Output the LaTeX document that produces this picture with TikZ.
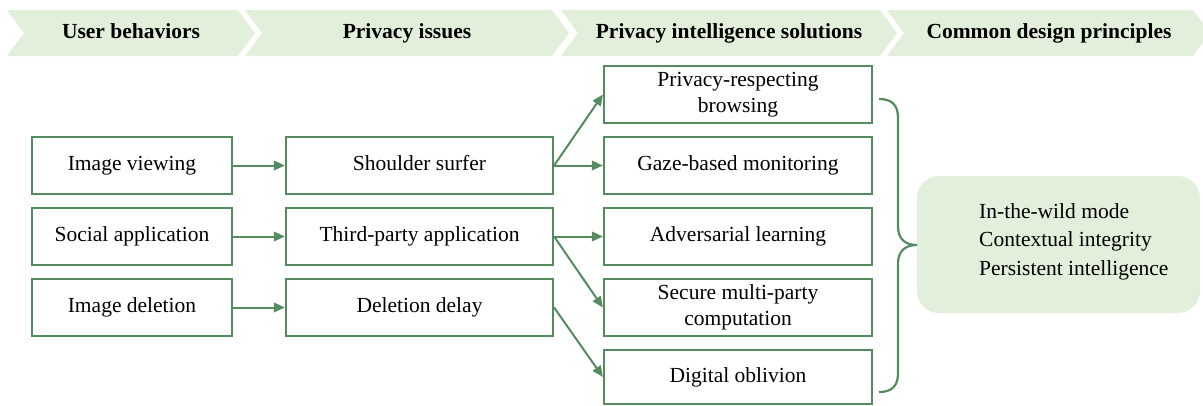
\documentclass[tikz,border=0pt]{standalone}
\usepackage{fontspec}
\setmainfont{Liberation Serif}
\usetikzlibrary{arrows.meta}
\definecolor{gline}{RGB}{84,140,96}
\definecolor{gfill}{RGB}{226,239,218}
\begin{document}
\begin{tikzpicture}[x=1pt,y=-1pt,
  box/.style={draw=gline,line width=2.2pt,minimum width=#1,minimum height=57pt,inner sep=0pt,align=center,font=\fontsize{21.5}{26}\selectfont},
  one/.style={text height=15pt,text depth=5pt},
  hdr/.style={font=\fontsize{21.5}{25}\selectfont\bfseries,text height=15pt,text depth=5pt},
  conn/.style={draw=gline,line width=2pt,-{Triangle[length=11pt,width=9.5pt]}},
  item/.style={anchor=west,inner sep=0pt,font=\fontsize{21.5}{25}\selectfont,text height=15pt,text depth=5pt}]
\useasboundingbox (0,0) rectangle (1203,405);

% header chevrons
\fill[gfill] (7,10) -- (238,10) -- (255,33) -- (238,56) -- (7,56) -- (24,33) -- cycle;
\fill[gfill] (245,10) -- (552,10) -- (569,33) -- (552,56) -- (245,56) -- (262,33) -- cycle;
\fill[gfill] (561,10) -- (880,10) -- (897,33) -- (880,56) -- (561,56) -- (578,33) -- cycle;
\fill[gfill] (887,10) -- (1193,10) -- (1210,33) -- (1193,56) -- (887,56) -- (904,33) -- cycle;
\node[hdr] (h1) at (131,33) {User behaviors};
\node[hdr] (h2) at (407,33) {Privacy issues};
\node[hdr] (h3) at (729,33) {Privacy intelligence solutions};
\node[hdr] (h4) at (1049,33) {Common design principles};

% column 1
\node[box=200pt,one] (a1) at (132,165.5) {Image viewing};
\node[box=200pt,one] (a2) at (132,236.5) {Social application};
\node[box=200pt,one] (a3) at (132,307.5) {Image deletion};
% column 2
\node[box=267pt,one] (b1) at (419.5,165.5) {Shoulder surfer};
\node[box=267pt,one] (b2) at (419.5,236.5) {Third-party application};
\node[box=267pt,one] (b3) at (419.5,307.5) {Deletion delay};
% column 3
\node[box=268pt] (c1) at (738,94.5) {Privacy-respecting\\browsing};
\node[box=268pt,one] (c2) at (738,165.5) {Gaze-based monitoring};
\node[box=268pt,one] (c3) at (738,236.5) {Adversarial learning};
\node[box=268pt] (c4) at (738,307.5) {Secure multi-party\\computation};
\node[box=268pt,one,minimum height=54pt] (c5) at (738,377) {Digital oblivion};

% connectors
\draw[conn] (a1) -- (b1);
\draw[conn] (a2) -- (b2);
\draw[conn] (a3) -- (b3);
\draw[conn] (b1.east) -- (c1.west);
\draw[conn] (b1.east) -- (c2.west);
\draw[conn] (b2.east) -- (c3.west);
\draw[conn] (b2.east) -- (c4.west);
\draw[conn] (b3.east) -- (c5.west);

% principles box
\fill[gfill,rounded corners=22pt] (917,176) rectangle (1200,313);
\node[item] (p1) at (979,213) {In-the-wild mode};
\node[item] (p2) at (979,241.5) {Contextual integrity};
\node[item] (p3) at (979,270) {Persistent intelligence};

% brace
\draw[gline,line width=2.2pt] (879,99) .. controls (892,99) and (898,105) .. (898,118)
  -- (898,226) .. controls (898,239) and (905,245) .. (917,245)
  .. controls (905,245) and (898,251) .. (898,264)
  -- (898,373) .. controls (898,386) and (892,392) .. (879,392);
\end{tikzpicture}
\end{document}
